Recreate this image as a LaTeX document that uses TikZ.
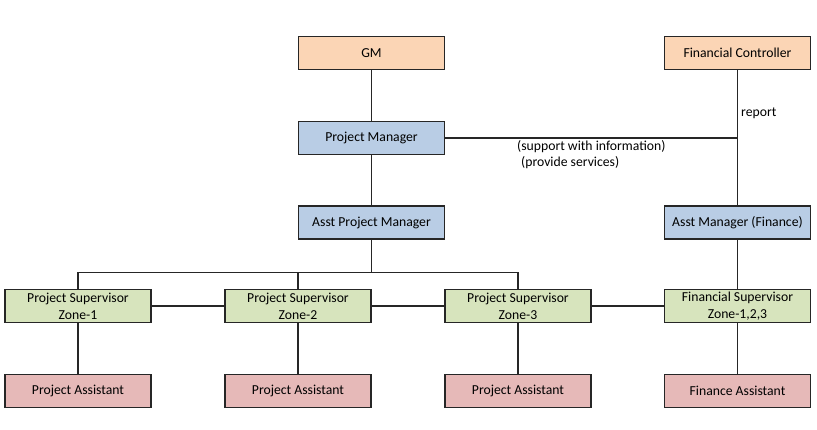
\documentclass[tikz,border=0pt]{standalone}
\usepackage{fontspec}
\setmainfont{Carlito}
\definecolor{cOrange}{HTML}{FBD5B5}
\definecolor{cBlue}{HTML}{B9CDE5}
\definecolor{cGreen}{HTML}{D7E4BD}
\definecolor{cPink}{HTML}{E6B9B8}
\definecolor{cLine}{HTML}{262626}
\tikzset{
  box/.style={draw=cLine, line width=1.2pt, minimum width=146pt, minimum height=33pt,
    inner sep=0pt, align=center, font=\fontsize{13.7}{17}\selectfont},
  orangebox/.style={box, fill=cOrange},
  bluebox/.style={box, fill=cBlue},
  greenbox/.style={box, fill=cGreen},
  pinkbox/.style={box, fill=cPink},
  conn/.style={draw=cLine, line width=1.1pt},
  lbl/.style={font=\fontsize{13.7}{17}\selectfont, inner sep=0pt, anchor=west}
}
\begin{document}
\begin{tikzpicture}[x=1pt,y=-1pt]
\useasboundingbox (0,0) rectangle (817,429);
% nodes
\node[orangebox] (GM) at (371.5,53) {GM};
\node[orangebox] (FC) at (737.5,53) {Financial Controller};
\node[bluebox] (PM) at (371.5,138) {Project Manager};
\node[bluebox] (APM) at (371.5,222.5) {Asst Project Manager};
\node[bluebox] (AMF) at (737.5,222.5) {Asst Manager (Finance)};
\node[greenbox] (S1) at (78,306) {Project Supervisor\\Zone-1};
\node[greenbox] (S2) at (298,306) {Project Supervisor\\Zone-2};
\node[greenbox] (S3) at (518,306) {Project Supervisor\\Zone-3};
\node[greenbox] (FS) at (737.5,306) {Financial Supervisor\\Zone-1,2,3};
\node[pinkbox] (A1) at (78,391) {Project Assistant};
\node[pinkbox] (A2) at (298,391) {Project Assistant};
\node[pinkbox] (A3) at (518,391) {Project Assistant};
\node[pinkbox] (FA) at (737.5,391) {Finance Assistant};
% labels
\node[lbl] (rep) at (741,113) {report};
\node[lbl] (sup) at (517,147) {(support with information)};
\node[lbl] (prov) at (521,163) {(provide services)};
% connectors
\draw[conn] (GM) -- (PM);
\draw[conn] (PM) -- (APM);
\draw[conn] (FC) -- (AMF);
\draw[conn] (PM.east) -- (PM.east -| FC.south);
\draw[conn] (APM.south) -- ++(0,32.5) coordinate (bus);
\draw[conn] (S1.north) |- (bus) -| (S3.north);
\draw[conn] (S2.north) -- (S2.north |- bus);
\draw[conn] (S1) -- (S2);
\draw[conn] (S2) -- (S3);
\draw[conn] (S3) -- (FS);
\draw[conn] (AMF) -- (FS);
\draw[conn] (S1) -- (A1);
\draw[conn] (S2) -- (A2);
\draw[conn] (S3) -- (A3);
\draw[conn] (FS) -- (FA);
\end{tikzpicture}
\end{document}
